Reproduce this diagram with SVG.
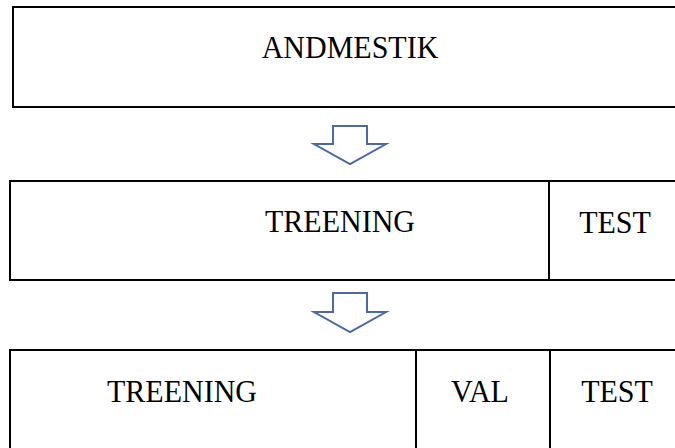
<svg xmlns="http://www.w3.org/2000/svg" width="675" height="448" viewBox="0 0 675 448">
<style>
.box{fill:#fff;stroke:#000;stroke-width:2}
.div{stroke:#000;stroke-width:2}
.t{font-family:"Liberation Serif","Times New Roman",serif;font-size:30px;fill:#000;text-anchor:middle}
.arr{fill:#fff;stroke:#4a69a8;stroke-width:2;stroke-linejoin:miter}
</style>
<rect width="675" height="448" fill="#fff"/>
<g id="andmestik">
<rect class="box" x="13" y="7" width="680" height="100"/>
<text class="t" transform="translate(350,57.5) scale(1,1.08)">ANDMESTIK</text>
</g>
<g id="row2">
<rect class="box" x="10" y="181" width="680" height="99"/>
<line class="div" x1="549" y1="181" x2="549" y2="280"/>
<text class="t" transform="translate(340,232) scale(1,1.08)">TREENING</text>
<text class="t" transform="translate(615,233) scale(1,1.08)">TEST</text>
</g>
<g id="row3">
<rect class="box" x="10" y="350" width="680" height="110"/>
<line class="div" x1="416" y1="350" x2="416" y2="448"/>
<line class="div" x1="550" y1="350" x2="550" y2="448"/>
<text class="t" transform="translate(182,402) scale(1,1.08)">TREENING</text>
<text class="t" transform="translate(480,402) scale(1,1.08)">VAL</text>
<text class="t" transform="translate(617,402) scale(1,1.08)">TEST</text>
</g>
<g id="connectors">
<polygon class="arr" points="333,126 367,126 367,144 386,144 350,164 314,144 333,144"/>
<polygon class="arr" points="333,293 367,293 367,312 386,312 350,332 314,312 333,312"/>
</g>
</svg>
